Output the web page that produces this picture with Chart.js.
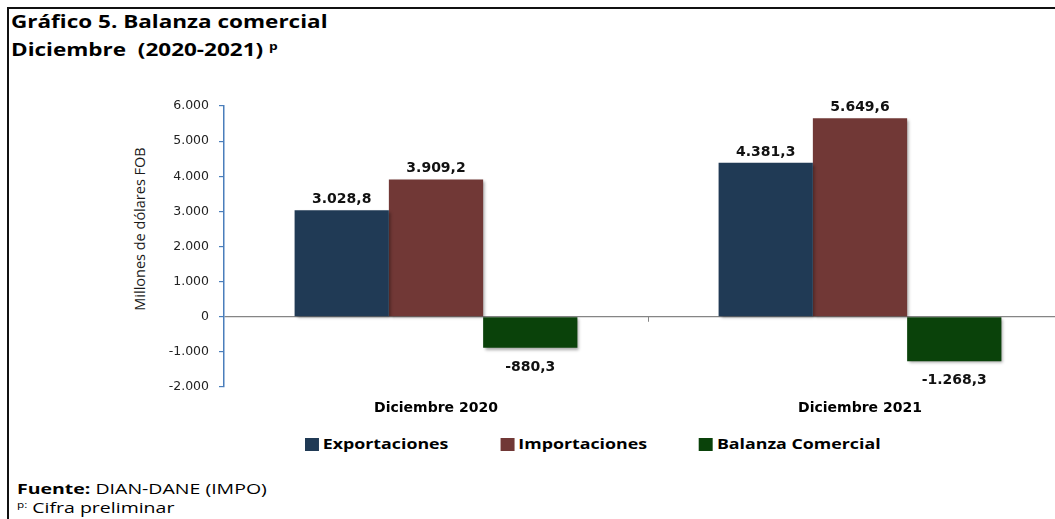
<!DOCTYPE html>
<html lang="es">
<head>
<meta charset="utf-8">
<title>Gráfico 5. Balanza comercial</title>
<script src="https://cdn.jsdelivr.net/npm/chart.js@4.4.1/dist/chart.umd.min.js"></script>
<style>
  html, body { margin: 0; padding: 0; background: #fff; }
  body { width: 1055px; height: 519px; overflow: hidden; position: relative; font-family: "Open Sans", sans-serif; color: #000; }
  #marco { position: absolute; left: 7px; top: 7px; width: 1200px; height: 600px; border-left: 2px solid #111; border-top: 2px solid #111; }
  #titulo { position: absolute; left: 11px; top: 7px; font-size: 18px; font-weight: 700; line-height: 28px; white-space: pre; transform: scaleX(1.25); transform-origin: 0 0; }
  #titulo sup { font-size: 11px; vertical-align: 6px; line-height: 0; }
  #ejeY { position: absolute; left: 139px; top: 229px; font-size: 14.5px; color: #1a1a1a; white-space: nowrap; transform: translate(-50%, -50%) rotate(-90deg); }
  #contenedor { position: absolute; left: 0; top: 0; width: 1075px; height: 430px; }
  #leyenda { position: absolute; left: 305px; top: 435px; height: 18px; display: flex; align-items: center; font-size: 14px; font-weight: 700; line-height: 18px; white-space: nowrap; transform: scaleX(1.27); transform-origin: 0 0; }
  #leyenda .item { display: flex; align-items: center; margin-right: 41px; }
  #leyenda .caja { width: 11px; height: 13px; margin-right: 3px; }
  #fuente { position: absolute; left: 17px; top: 479px; font-size: 15px; line-height: 19px; white-space: nowrap; transform: scaleX(1.3); transform-origin: 0 0; }
  #fuente sup { font-size: 9px; vertical-align: 5px; line-height: 0; }
</style>
</head>
<body>
<div id="marco"></div>
<div id="titulo">Gráfico 5. Balanza comercial
Diciembre  (2020-2021) <sup>p</sup></div>
<div id="ejeY">Millones de dólares FOB</div>
<div id="contenedor"><canvas id="balanzaChart"></canvas></div>
<div id="leyenda"></div>
<div id="fuente"><b>Fuente:</b> DIAN-DANE (IMPO)<br><sup>p:</sup> Cifra preliminar</div>

<script>
// datos del gráfico (millones de dólares FOB)
const categorias = ['Diciembre 2020', 'Diciembre 2021'];
const exportaciones = [3028.8, 4381.3];
const importaciones = [3909.2, 5649.6];
const balanza = [-880.3, -1268.3];
const nombresSeries = ['Exportaciones', 'Importaciones', 'Balanza Comercial'];
const ejeMin = -2000;
const ejeMax = 6000;
const ejePaso = 1000;

const colores = ['#203a55', '#713836', '#0a420a'];

// 3028.8 -> "3.028,8"
function formatoNumero(v, dec) {
    const partes = Math.abs(v).toFixed(dec).split('.');
    partes[0] = partes[0].replace(/\B(?=(\d{3})+(?!\d))/g, '.');
    return (v < 0 ? '-' : '') + partes.join(',');
}

// sombra suave debajo de las barras
const sombraBarras = {
    id: 'sombraBarras',
    beforeDatasetsDraw(chart) {
        const ctx = chart.ctx;
        ctx.save();
        ctx.shadowColor = 'rgba(0,0,0,0.35)';
        ctx.shadowBlur = 3;
        ctx.shadowOffsetX = 2;
        ctx.shadowOffsetY = 2;
    },
    afterDatasetsDraw(chart) {
        chart.ctx.restore();
    }
};

// etiquetas de valor y marca entre categorías
const etiquetas = {
    id: 'etiquetas',
    afterDatasetsDraw(chart) {
        const ctx = chart.ctx;
        ctx.save();
        ctx.font = 'bold 14px "DejaVu Sans"';
        ctx.fillStyle = '#111';
        ctx.textAlign = 'center';
        ctx.textBaseline = 'alphabetic';
        chart.data.datasets.forEach((ds, i) => {
            chart.getDatasetMeta(i).data.forEach((bar, j) => {
                const v = ds.data[j];
                const y = v >= 0 ? bar.y - 7 : bar.y + 23;
                ctx.fillText(formatoNumero(v, 1), bar.x, y);
            });
        });

        const x = chart.scales.x;
        const y0 = chart.scales.y.getPixelForValue(0);
        ctx.strokeStyle = '#858585';
        ctx.lineWidth = 1;
        for (let k = 0; k < categorias.length - 1; k++) {
            const xm = Math.round((x.getPixelForValue(k) + x.getPixelForValue(k + 1)) / 2) + 0.5;
            ctx.beginPath();
            ctx.moveTo(xm, y0);
            ctx.lineTo(xm, y0 + 5);
            ctx.stroke();
        }
        ctx.restore();
    }
};

const series = [exportaciones, importaciones, balanza];

const ctx = document.getElementById('balanzaChart').getContext('2d');
const chart = new Chart(ctx, {
    type: 'bar',
    data: {
        labels: categorias,
        datasets: series.map((datos, i) => ({
            label: nombresSeries[i],
            data: datos,
            backgroundColor: colores[i],
            borderWidth: 0,
            categoryPercentage: 0.667,
            barPercentage: 1
        }))
    },
    options: {
        responsive: true,
        maintainAspectRatio: false,
        animation: false,
        layout: {
            padding: { left: 164, right: 3, top: 106, bottom: 13 }
        },
        plugins: {
            legend: { display: false },
            tooltip: { enabled: false }
        },
        scales: {
            x: {
                grid: { display: false, drawTicks: false },
                border: { display: false },
                ticks: {
                    padding: 13,
                    color: '#000',
                    font: { family: 'DejaVu Sans', size: 14, weight: 'bold' }
                },
                afterFit(scale) { scale.height = 30; }
            },
            y: {
                min: ejeMin,
                max: ejeMax,
                border: { display: true, color: '#4a7ebb', width: 1.5 },
                grid: {
                    drawOnChartArea: true,
                    drawTicks: true,
                    tickLength: 5,
                    tickColor: '#4a7ebb',
                    color: c => (c.tick && c.tick.value === 0) ? '#858585' : 'rgba(0,0,0,0)',
                    lineWidth: 1.2
                },
                ticks: {
                    stepSize: ejePaso,
                    padding: 10,
                    color: '#222',
                    font: { family: 'DejaVu Sans', size: 12.5 },
                    callback: v => formatoNumero(v, 0)
                },
                afterFit(scale) { scale.width = 60; }
            }
        }
    },
    plugins: [sombraBarras, etiquetas]
});

// leyenda
const leyenda = document.getElementById('leyenda');
nombresSeries.forEach((nombre, i) => {
    const item = document.createElement('div');
    item.className = 'item';
    const caja = document.createElement('span');
    caja.className = 'caja';
    caja.style.background = colores[i];
    const texto = document.createElement('span');
    texto.textContent = nombre;
    item.appendChild(caja);
    item.appendChild(texto);
    leyenda.appendChild(item);
});
</script>
</body>
</html>
